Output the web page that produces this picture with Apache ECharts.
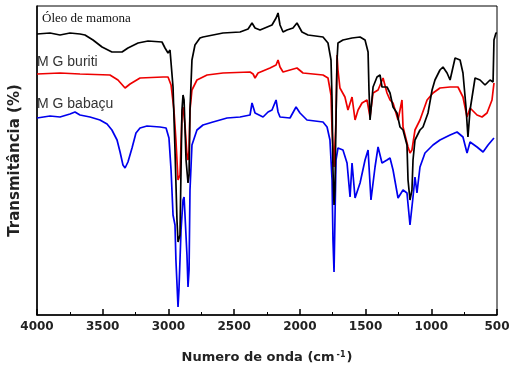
<!DOCTYPE html>
<html>
<head>
<meta charset="utf-8">
<script src="https://cdn.jsdelivr.net/npm/echarts@6/dist/echarts.min.js"></script>
<style>
  html, body { margin: 0; padding: 0; background: #fff; }
  #chart { width: 516px; height: 376px; }
</style>
</head>
<body>
<div id="chart"></div>
<script>
  // wavenumber ticks (cm-1), axis runs 4000 -> 500
  const xTicks = [4000, 3500, 3000, 2500, 2000, 1500, 1000, 500]
  const seriesNames = ['Óleo de mamona', 'M G buriti', 'M G babaçu']

  // transmittance in arbitrary units (0 = bottom of frame)
  const mamona = [
    [4000, 281], [3901, 282], [3825, 280], [3749, 282], [3673, 281], [3635, 280],
    [3574, 275], [3505, 268], [3430, 263], [3353, 263], [3308, 267], [3231, 272],
    [3155, 274], [3049, 273], [3026, 267], [3003, 262], [2988, 265], [2965, 228],
    [2950, 165], [2935, 95], [2927, 73], [2912, 80], [2897, 205], [2889, 220],
    [2881, 215], [2866, 155], [2851, 132], [2843, 140], [2836, 205], [2821, 255],
    [2798, 270], [2760, 277], [2737, 278], [2585, 282], [2455, 283], [2394, 286],
    [2364, 292], [2341, 287], [2303, 285], [2212, 290], [2181, 297], [2166, 302],
    [2151, 290], [2128, 283], [2098, 285], [2052, 287], [2022, 292], [1984, 283],
    [1938, 280], [1824, 278], [1786, 272], [1763, 255], [1755, 215], [1748, 145],
    [1740, 110], [1733, 125], [1725, 195], [1717, 255], [1710, 272], [1672, 275],
    [1603, 277], [1542, 278], [1504, 275], [1481, 263], [1474, 225], [1466, 195],
    [1443, 228], [1413, 238], [1390, 240], [1375, 228], [1337, 228], [1314, 222],
    [1291, 208], [1261, 202], [1238, 188], [1215, 185], [1185, 170], [1177, 135],
    [1162, 115], [1147, 125], [1139, 155], [1124, 175], [1086, 185], [1063, 188],
    [1025, 202], [994, 225], [972, 235], [934, 245], [911, 248], [880, 242],
    [857, 235], [819, 257], [781, 255], [759, 242], [736, 208], [721, 178],
    [705, 205], [667, 237], [629, 235], [591, 230], [553, 235], [530, 233],
    [523, 275], [508, 282], [500, 282]
  ]
  const buriti = [
    [4000, 241], [3825, 242], [3673, 241], [3445, 240], [3384, 235], [3330, 227],
    [3292, 231], [3216, 237], [3041, 238], [3003, 238], [2980, 230], [2958, 205],
    [2943, 175], [2927, 135], [2912, 140], [2897, 200], [2889, 208], [2874, 190],
    [2859, 160], [2851, 155], [2843, 165], [2836, 205], [2821, 225], [2783, 235],
    [2706, 240], [2585, 242], [2379, 243], [2356, 241], [2341, 237], [2318, 242],
    [2227, 247], [2181, 250], [2166, 255], [2151, 248], [2128, 243], [2075, 245],
    [2022, 247], [1976, 242], [1824, 240], [1786, 237], [1763, 220], [1755, 185],
    [1740, 148], [1725, 195], [1717, 260], [1710, 245], [1695, 227], [1657, 218],
    [1634, 205], [1603, 218], [1580, 195], [1557, 205], [1527, 212], [1489, 215],
    [1466, 198], [1443, 222], [1405, 225], [1367, 237], [1337, 222], [1314, 215],
    [1291, 212], [1253, 195], [1223, 215], [1215, 188], [1177, 168], [1162, 162],
    [1147, 165], [1124, 185], [1086, 195], [1032, 215], [987, 222], [934, 227],
    [857, 228], [797, 228], [759, 218], [728, 198], [705, 207], [652, 200],
    [614, 198], [576, 202], [538, 215], [523, 232]
  ]
  const babacu = [
    [4000, 197], [3901, 199], [3825, 198], [3749, 201], [3711, 203], [3673, 200],
    [3597, 198], [3521, 195], [3467, 191], [3430, 185], [3391, 175], [3368, 163],
    [3346, 150], [3330, 147], [3308, 153], [3277, 167], [3247, 182], [3216, 187],
    [3163, 189], [3064, 188], [3018, 187], [2996, 177], [2980, 145], [2965, 100],
    [2950, 90], [2943, 55], [2927, 8], [2920, 25], [2904, 85], [2889, 115],
    [2881, 118], [2874, 100], [2859, 60], [2851, 28], [2843, 45], [2836, 125],
    [2821, 170], [2783, 185], [2737, 190], [2661, 193], [2554, 197], [2455, 198],
    [2379, 200], [2364, 212], [2341, 202], [2280, 198], [2242, 203], [2212, 205],
    [2181, 215], [2166, 203], [2151, 198], [2075, 197], [2029, 208], [1999, 202],
    [1946, 195], [1824, 193], [1793, 188], [1771, 175], [1755, 135], [1748, 75],
    [1740, 43], [1733, 95], [1725, 155], [1710, 167], [1672, 165], [1641, 152],
    [1618, 118], [1603, 152], [1580, 117], [1542, 132], [1504, 155], [1481, 165],
    [1459, 115], [1428, 148], [1405, 168], [1375, 152], [1337, 155], [1314, 157],
    [1291, 145], [1253, 117], [1215, 125], [1185, 122], [1162, 90], [1139, 118],
    [1124, 138], [1109, 122], [1086, 148], [1048, 162], [987, 170], [934, 175],
    [857, 180], [804, 183], [759, 178], [728, 162], [705, 173], [652, 168],
    [606, 163], [568, 170], [523, 177]
  ]

  const chart = echarts.init(document.getElementById('chart'), null, { renderer: 'canvas' })
  const axisFont = 'DejaVu Sans'

  const lineSeries = (name, data, color) => ({
    name: name,
    type: 'line',
    data: data,
    symbol: 'none',
    animation: false,
    lineStyle: { color: color, width: 1.7 },
  })

  const option = {
    backgroundColor: '#fff',
    animation: false,
    grid: {
      left: 37, right: 19, top: 6, bottom: 61,
      containLabel: false,
      outerBoundsMode: 'none',
      show: true, borderColor: '#000', borderWidth: 1,
    },
    xAxis: {
      type: 'value',
      inverse: true,
      min: xTicks[xTicks.length - 1],
      max: xTicks[0],
      interval: 500,
      axisLine: { show: true, lineStyle: { color: '#000', width: 1.5 } },
      axisTick: { show: true, inside: true, length: 6, lineStyle: { color: '#000', width: 1.5 } },
      minorTick: { show: true, splitNumber: 2, length: 3, lineStyle: { color: '#000' } },
      splitLine: { show: false },
      axisLabel: {
        color: '#222', fontFamily: axisFont, fontWeight: 'bold', fontSize: 12, margin: 6,
        formatter: (v) => String(v),
      },
      name: '{a|Numero de onda (cm}{s|-1}{a|)}',
      nameLocation: 'middle',
      nameGap: 36,
      nameTextStyle: {
        rich: {
          a: { color: '#222', fontFamily: axisFont, fontWeight: 'bold', fontSize: 13 },
          s: { color: '#222', fontFamily: axisFont, fontWeight: 'bold', fontSize: 8, verticalAlign: 'top', padding: [0, 1, 6, 2] },
        },
      },
    },
    yAxis: {
      type: 'value',
      min: 0,
      max: 309,
      axisLine: { show: true, lineStyle: { color: '#000', width: 1.5 } },
      axisTick: { show: false },
      axisLabel: { show: false },
      splitLine: { show: false },
      name: 'Transmitância (%)',
      nameLocation: 'middle',
      nameGap: 14,
      nameTextStyle: { color: '#222', fontFamily: axisFont, fontWeight: 'bold', fontSize: 15 },
    },
    graphic: [
      { type: 'text', left: 42, top: 12, style: { text: seriesNames[0], fill: '#111', font: '13px "Liberation Serif"' } },
      { type: 'text', left: 37, top: 55, style: { text: seriesNames[1], fill: '#333', font: '14px "Liberation Sans"' } },
      { type: 'text', left: 37, top: 97, style: { text: seriesNames[2], fill: '#333', font: '14px "Liberation Sans"' } },
    ],
    series: [
      lineSeries(seriesNames[2], babacu, '#0000ee'),
      lineSeries(seriesNames[1], buriti, '#ee0000'),
      lineSeries(seriesNames[0], mamona, '#000000'),
    ],
  }

  option && chart.setOption(option)
</script>
</body>
</html>
